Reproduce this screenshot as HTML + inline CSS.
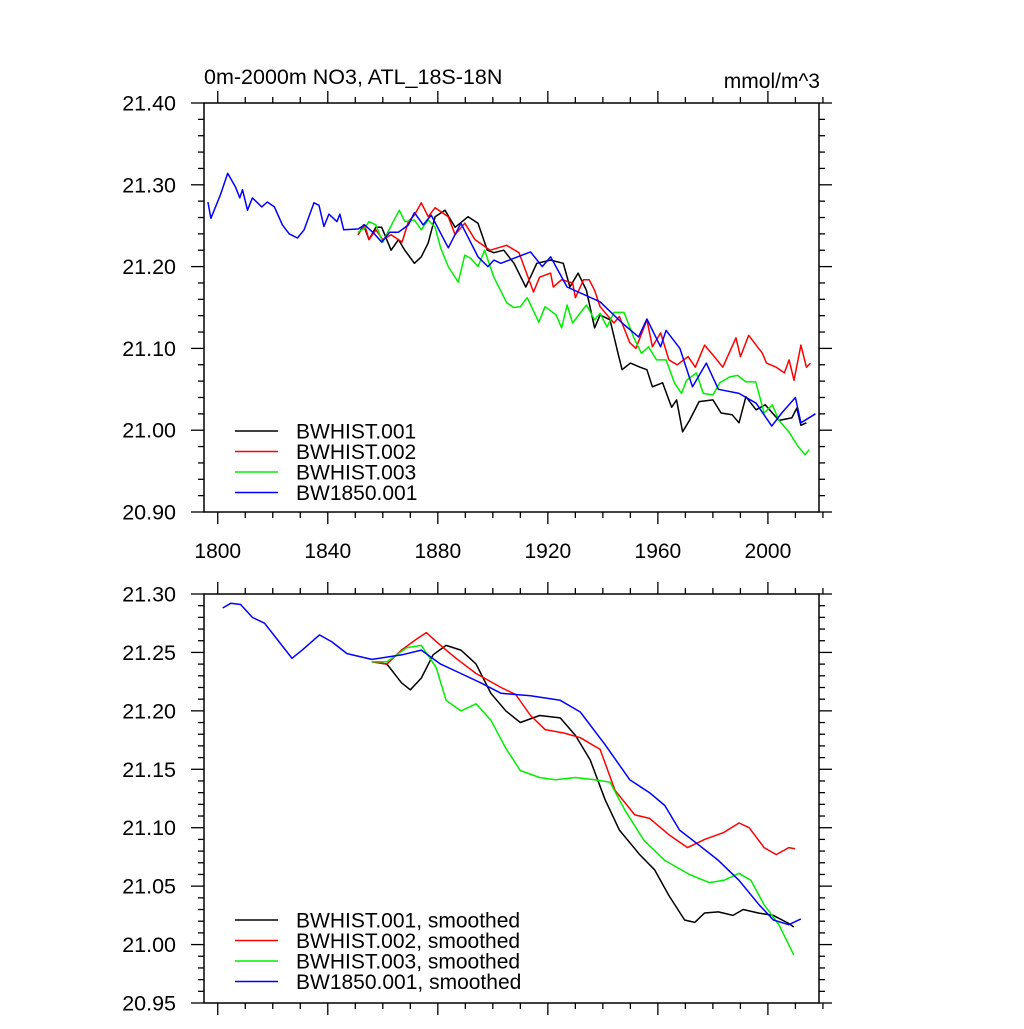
<!DOCTYPE html>
<html><head><meta charset="utf-8"><style>
body{margin:0;background:#fff;}
svg text{font-family:"Liberation Sans",sans-serif;fill:#000;}
</style></head><body>
<svg id="chart" width="1024" height="1024" xmlns="http://www.w3.org/2000/svg"></svg>
<script>
// ---- data ----
const topTitle = "0m-2000m NO3, ATL_18S-18N";
const unitsLabel = "mmol/m^3";
const xTicks = [1800,1840,1880,1920,1960,2000];
const topYTicks = [20.90,21.00,21.10,21.20,21.30,21.40];
const botYTicks = [20.95,21.00,21.05,21.10,21.15,21.20,21.25,21.30];
const seriesNames = ["BWHIST.001","BWHIST.002","BWHIST.003","BW1850.001"];
const seriesColors = ["#000000","#ff0000","#00ee00","#0000ff"];

const blueYears = [1796.4,1797.5,1801,1803.6,1806.5,1808,1809,1810.8,1812.6,1816,1818,1820.6,1823.5,1826,1829,1831.4,1835,1836.8,1838.6,1840.4,1843.3,1844.4,1845.8,1851,1853.4,1856.7,1859.6,1862.5,1865.7,1869.3,1871.5,1874.7,1877.6,1883.8,1888.4,1894.6,1898.2,1900.4,1902.9,1913.7,1918,1921,1927,1939,1947,1953,1956,1961,1963,1968,1972.6,1977.6,1982,1989.5,1995.7,2001.4,2005,2010,2012,2017.3];
const blueVals = [21.279,21.259,21.288,21.314,21.297,21.284,21.294,21.269,21.284,21.273,21.279,21.273,21.251,21.24,21.235,21.245,21.278,21.275,21.249,21.264,21.255,21.264,21.245,21.246,21.251,21.241,21.23,21.242,21.242,21.251,21.266,21.251,21.263,21.223,21.253,21.212,21.2,21.208,21.204,21.218,21.2,21.212,21.175,21.157,21.131,21.114,21.136,21.102,21.122,21.10,21.053,21.082,21.05,21.045,21.033,21.005,21.021,21.04,21.009,21.02];

const blackYears = [1851,1853,1855,1857.5,1859.6,1863,1865.7,1868,1871.5,1874,1876.5,1879,1882.6,1886.3,1891,1894.6,1898,1900.4,1904,1907.7,1912,1916,1921,1925.6,1928,1931,1934,1937,1939,1942.6,1945.5,1947,1950,1953.5,1956,1958,1961.7,1965,1966.8,1969,1971.5,1975,1980,1983,1987,1989.5,1992,1995.7,1999,2004,2008.7,2010.5,2012,2014];
const blackVals = [21.239,21.251,21.233,21.248,21.248,21.22,21.233,21.22,21.204,21.212,21.229,21.261,21.269,21.248,21.261,21.253,21.22,21.217,21.22,21.204,21.175,21.204,21.208,21.204,21.175,21.192,21.171,21.125,21.141,21.135,21.094,21.074,21.082,21.077,21.074,21.053,21.058,21.028,21.037,20.998,21.012,21.035,21.037,21.021,21.019,21.009,21.041,21.025,21.031,21.012,21.015,21.027,21.006,21.009];

const redYears = [1851,1853.4,1855,1857.5,1860,1863,1867,1869.3,1871.5,1874,1876.5,1879,1883.8,1886.3,1889.8,1893.5,1899,1905,1909.5,1914.8,1917,1921,1922,1925,1929,1930,1933,1935,1937,1939,1944,1946,1949.8,1952,1956,1958,1961,1964,1967,1971,1973.6,1977,1980,1983.6,1988.4,1990,1993,1998,1999.5,2003,2006,2007.7,2009.5,2012,2014,2015.5];
const redVals = [21.239,21.251,21.233,21.245,21.233,21.239,21.23,21.255,21.263,21.278,21.261,21.272,21.261,21.239,21.253,21.233,21.22,21.226,21.217,21.169,21.187,21.192,21.175,21.184,21.18,21.162,21.184,21.184,21.171,21.151,21.131,21.139,21.107,21.1,21.135,21.102,21.119,21.086,21.08,21.09,21.077,21.104,21.092,21.077,21.113,21.09,21.116,21.094,21.082,21.077,21.07,21.086,21.061,21.104,21.077,21.082];

const greenYears = [1851,1853.4,1855,1857.5,1860,1863.5,1866,1868,1871.5,1874,1876.5,1879,1881,1883.8,1887.4,1889.8,1892,1894.6,1897,1900.4,1905,1907.5,1910,1912.5,1916.7,1919,1923,1925,1927,1929,1934,1937,1939,1941.5,1944,1947.7,1951.3,1954,1956.6,1959.5,1963,1966,1968.6,1970.4,1974,1976.5,1980,1982.5,1986,1989,1992,1995.6,1998.6,2001.6,2004,2007.6,2011,2013.5,2015];
const greenVals = [21.242,21.247,21.255,21.251,21.23,21.253,21.269,21.255,21.257,21.245,21.257,21.248,21.223,21.2,21.181,21.214,21.21,21.2,21.22,21.187,21.156,21.15,21.151,21.162,21.132,21.151,21.141,21.125,21.153,21.131,21.153,21.135,21.143,21.126,21.144,21.144,21.113,21.094,21.102,21.086,21.086,21.058,21.045,21.061,21.07,21.045,21.043,21.058,21.065,21.067,21.059,21.059,21.021,21.031,21.012,20.998,20.98,20.97,20.976];

const sBlueYears = [1801.8,1804.7,1808.3,1812.6,1817,1821.7,1827,1830.7,1837,1841.5,1847,1856,1867,1874,1881,1888.4,1895.6,1903,1913.7,1924.5,1931.8,1940.8,1949.8,1957,1962.5,1967.9,1975,1982,1989.5,1996.8,2002,2007.6,2012];
const sBlueVals = [21.288,21.292,21.291,21.28,21.275,21.261,21.245,21.252,21.265,21.259,21.249,21.244,21.248,21.252,21.24,21.232,21.224,21.215,21.213,21.209,21.199,21.171,21.141,21.13,21.119,21.098,21.085,21.072,21.055,21.034,21.021,21.017,21.022];
const sBlackYears = [1856,1861.5,1866.8,1870,1874,1878.3,1883,1888.4,1893.9,1899.3,1904.7,1910,1917,1924.5,1930,1935.4,1940.8,1946,1953.4,1958.8,1964,1969.7,1973.4,1977,1982,1987.3,1991,1996.5,2002,2007.6,2009.4];
const sBlackVals = [21.242,21.24,21.224,21.218,21.228,21.248,21.256,21.252,21.24,21.215,21.2,21.19,21.196,21.194,21.179,21.158,21.124,21.098,21.077,21.064,21.042,21.021,21.019,21.027,21.028,21.025,21.03,21.027,21.025,21.018,21.015];
const sRedYears = [1856,1861.5,1866.8,1872,1875.8,1881,1886.6,1893.9,1903,1908.3,1913.7,1919,1926,1931.8,1939,1944.4,1951.6,1957,1964,1970.8,1977,1984,1989.5,1993.2,1998.6,2003,2007.6,2009.8];
const sRedVals = [21.242,21.24,21.252,21.261,21.267,21.256,21.245,21.232,21.22,21.214,21.196,21.184,21.181,21.177,21.167,21.132,21.111,21.108,21.094,21.083,21.09,21.096,21.104,21.1,21.083,21.077,21.083,21.082];
const sGreenYears = [1856,1861.5,1868.6,1874,1879.4,1883,1888.4,1893.9,1899.3,1904.7,1910,1917,1922.7,1930,1937,1942.6,1948,1955,1962.5,1971.5,1978.7,1984,1989.5,1993.8,1998.6,2004,2009.4];
const sGreenVals = [21.242,21.242,21.254,21.256,21.237,21.209,21.2,21.206,21.192,21.168,21.149,21.143,21.141,21.143,21.141,21.139,21.115,21.089,21.072,21.06,21.053,21.055,21.061,21.055,21.034,21.017,20.991];

// ---- drawing ----
const NS="http://www.w3.org/2000/svg";
const svg=document.getElementById('chart');
function mk(tag,attrs,parent){const e=document.createElementNS(NS,tag);for(const k in attrs)e.setAttribute(k,attrs[k]);(parent||svg).appendChild(e);return e;}
const FL=204,FR=819,XMIN=1795,XMAX=2023.3,SX0=204,SX1=832;
function xs(v){return SX0+(v-XMIN)/(XMAX-XMIN)*(SX1-SX0);}

function panel(name,top,bot,ymin,ymax,yTicks,minorStep,labelX,seriesSets,legendY,suffix){
  const g=mk('g',{});
  
  
  const ys=v=>bot-(v-ymin)/(ymax-ymin)*(bot-top);
  for(let yr=1800;yr<=2020;yr+=10){
    const x=xs(yr),maj=(yr-1800)%40===0;
    mk('line',{x1:x,x2:x,y1:bot,y2:bot+(maj?12:6),stroke:'#000','stroke-width':1.3},g);
    mk('line',{x1:x,x2:x,y1:top,y2:top-(maj?12:6),stroke:'#000','stroke-width':1.3},g);
  }
  const n=Math.round((ymax-ymin)/minorStep);
  for(let i=0;i<=n;i++){
    const v=ymin+i*minorStep,y=ys(v);
    const maj=yTicks.some(t=>Math.abs(t-v)<1e-6);
    const L=maj?13:6;
    mk('line',{x1:FL,x2:FL-L,y1:y,y2:y,stroke:'#000','stroke-width':1.3},g);
    mk('line',{x1:FR,x2:FR+L,y1:y,y2:y,stroke:'#000','stroke-width':1.3},g);
  }
  yTicks.forEach(t=>{
    const tx=mk('text',{x:176,y:ys(t)+7.5,'text-anchor':'end','font-size':21.5},g);
    tx.textContent=t.toFixed(2);
    
    
  });
  if(labelX){
    xTicks.forEach(t=>{
      const tx=mk('text',{x:xs(t),y:bot+46,'text-anchor':'middle','font-size':21},g);
      tx.textContent=t;
      
      
    });
  }
  seriesSets.forEach((s,i)=>{
    const d=s[0].map((yr,j)=>(j?'L':'M')+xs(yr).toFixed(1)+' '+ys(s[1][j]).toFixed(1)).join(' ');
    const p=mk('path',{d:d,fill:'none',stroke:seriesColors[i],'stroke-width':1.5,'stroke-linejoin':'round'},g);
    
    
  });
  const fr=mk('rect',{x:FL,y:top,width:FR-FL,height:bot-top,fill:'none',stroke:'#000','stroke-width':1.5},g);
  
  
  seriesNames.forEach((nm,i)=>{
    const y=legendY+i*20.5;
    const le=mk('g',{},g);
    
    
    mk('line',{x1:235,x2:278,y1:y,y2:y,stroke:seriesColors[i],'stroke-width':1.5},le);
    const t=mk('text',{x:296,y:y+7.5,'font-size':21},le);
    t.textContent=nm+suffix;
  });
}
panel('top-panel',103,512,20.90,21.40,topYTicks,0.02,true,
  [[blackYears,blackVals],[redYears,redVals],[greenYears,greenVals],[blueYears,blueVals]],431,'');
panel('bottom-panel',594,1003,20.95,21.30,botYTicks,0.01,false,
  [[sBlackYears,sBlackVals],[sRedYears,sRedVals],[sGreenYears,sGreenVals],[sBlueYears,sBlueVals]],920,', smoothed');
const tt=mk('text',{x:204,y:84,'font-size':21.5});
tt.textContent=topTitle;


const ut=mk('text',{x:820,y:88,'font-size':21});
ut.setAttribute('text-anchor','end');
ut.textContent=unitsLabel;


</script>
</body></html>
